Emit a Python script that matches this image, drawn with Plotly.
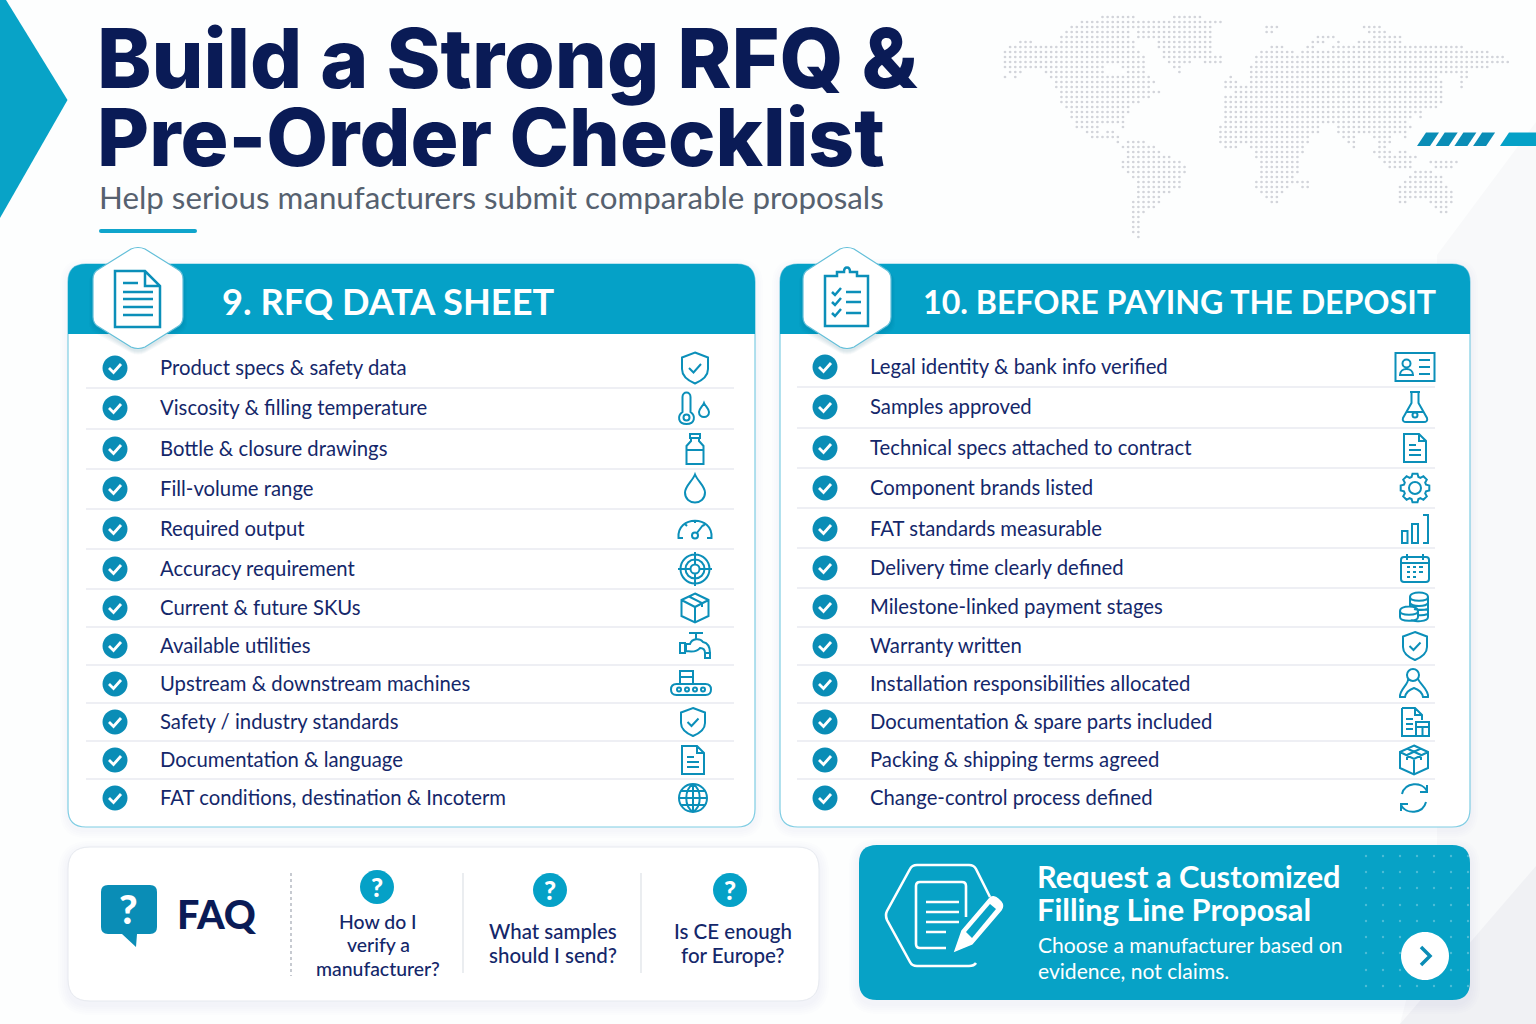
#!/usr/bin/env python3
"""Build a Strong RFQ & Pre-Order Checklist infographic, drawn on a pixel-sized plot."""

import math
import re

import plotly.graph_objects as go

NAVY = "#0a1b56"
ROW_TEXT = "#14276a"
TEAL = "#05a1c7"
TEAL_DARK = "#0a8db6"
ICON = "#0b8fb9"
BORDER = "#7fcde3"
RULE = "#e8eaf0"
FONT = "Lato"

TITLE_LINES = ["Build a Strong RFQ &", "Pre-Order Checklist"]
SUBTITLE = "Help serious manufacturers submit comparable proposals"

LEFT_HEADER = "9. RFQ DATA SHEET"
LEFT_ITEMS = [
    "Product specs & safety data",
    "Viscosity & filling temperature",
    "Bottle & closure drawings",
    "Fill-volume range",
    "Required output",
    "Accuracy requirement",
    "Current & future SKUs",
    "Available utilities",
    "Upstream & downstream machines",
    "Safety / industry standards",
    "Documentation & language",
    "FAT conditions, destination & Incoterm",
]
LEFT_ICONS = ["shield", "thermo", "bottle", "drop", "gauge", "target",
              "box", "tap", "conveyor", "shield_small", "doc", "globe"]
LEFT_ROW_Y = [368, 408, 449, 489, 529, 569, 608, 646, 684, 722, 760, 798]
LEFT_ICON_X = [695, 695, 695, 695, 695, 695, 695, 695, 691, 693, 693, 693]
LEFT_RULE_Y = [388, 429, 469, 509, 549, 589, 627, 665, 703, 741, 779]

RIGHT_HEADER = "10. BEFORE PAYING THE DEPOSIT"
RIGHT_ITEMS = [
    "Legal identity & bank info verified",
    "Samples approved",
    "Technical specs attached to contract",
    "Component brands listed",
    "FAT standards measurable",
    "Delivery time clearly defined",
    "Milestone-linked payment stages",
    "Warranty written",
    "Installation responsibilities allocated",
    "Documentation & spare parts included",
    "Packing & shipping terms agreed",
    "Change-control process defined",
]
RIGHT_ICONS = ["idcard", "flask", "doc", "gear", "bars", "calendar",
               "coins", "shield_small", "person", "docbox", "parcel", "refresh"]
RIGHT_ROW_Y = [367, 407, 448, 488, 529, 568, 607, 646, 684, 722, 760, 798]
RIGHT_ICON_X = [1415, 1415, 1415, 1415, 1415, 1415, 1414, 1415, 1414, 1415, 1414, 1414]
RIGHT_RULE_Y = [387, 428, 468, 508, 548, 588, 627, 665, 703, 741, 779]

FAQ_TITLE = "FAQ"
FAQ_QUESTIONS = [["How do I", "verify a", "manufacturer?"],
                 ["What samples", "should I send?"],
                 ["Is CE enough", "for Europe?"]]
FAQ_CIRCLE_X = [377, 550, 730]
FAQ_CIRCLE_Y = [887, 890, 890]
FAQ_TEXT_X = [378, 553, 733]
FAQ_TEXT_Y = [[921, 944, 968], [931, 955], [931, 955]]
FAQ_TEXT_SIZE = [19.4, 20.5, 20.5]

CTA_TITLE = ["Request a Customized", "Filling Line Proposal"]
CTA_BODY = ["Choose a manufacturer based on", "evidence, not claims."]

# dotted world map: row number -> runs of dot columns
MAP_RUNS = {
    0: [(19, 25), (33, 38)], 1: [(15, 42)], 2: [(13, 40), (51, 53), (70, 73)],
    3: [(12, 24), (26, 40), (51, 52), (71, 74)], 4: [(11, 24), (26, 40), (61, 64), (72, 77)],
    5: [(3, 5), (11, 25), (30, 40), (60, 62), (65, 65), (69, 77)],
    6: [(1, 25), (30, 40), (52, 54), (59, 60), (64, 89)],
    7: [(0, 26), (31, 40), (50, 56), (58, 94)], 8: [(0, 27), (31, 42), (49, 57), (58, 97)],
    9: [(0, 27), (32, 36), (39, 42), (49, 98)], 10: [(0, 19), (23, 27), (33, 34), (48, 94)],
    11: [(1, 3), (8, 19), (24, 27), (34, 34), (48, 90)],
    12: [(0, 0), (2, 2), (9, 22), (23, 28), (44, 44), (48, 84), (89, 90)],
    13: [(10, 29), (43, 45), (48, 85), (89, 89)], 14: [(10, 28), (43, 85), (89, 89)],
    15: [(11, 30), (45, 85)], 16: [(11, 28), (43, 85)], 17: [(11, 26), (43, 85)],
    18: [(12, 24), (43, 84)], 19: [(13, 24), (43, 81)], 20: [(13, 23), (43, 79), (81, 81)],
    21: [(14, 23), (43, 78)], 22: [(14, 18), (23, 23), (42, 61), (65, 79)],
    23: [(16, 18), (20, 21), (42, 61), (65, 78)],
    24: [(17, 22), (42, 59), (66, 68), (72, 75), (78, 78)],
    25: [(22, 22), (24, 27), (42, 59), (67, 68), (73, 75)],
    26: [(23, 29), (43, 45), (48, 58), (68, 68), (73, 74)],
    27: [(24, 30), (49, 58), (72, 75), (77, 78)], 28: [(24, 32), (49, 57), (73, 75), (76, 80)],
    29: [(23, 34), (50, 57), (74, 79), (83, 88)], 30: [(23, 35), (50, 57), (75, 79), (84, 87)],
    31: [(24, 35), (50, 57), (80, 83)], 32: [(25, 34), (50, 56), (79, 85)],
    33: [(26, 34), (49, 57), (58, 59), (78, 85)], 34: [(26, 34), (49, 55), (58, 59), (77, 86)],
    35: [(26, 32), (50, 54), (77, 87)], 36: [(26, 30), (51, 53), (77, 87)],
    37: [(25, 30), (52, 53), (77, 78), (83, 87)], 38: [(25, 29), (84, 86)],
    39: [(25, 27), (85, 86)], 40: [(25, 26)], 41: [(25, 26)], 42: [(25, 26)],
    43: [(25, 26)], 44: [(26, 26)],
}
CTA_DOT_X = [1366, 1383, 1400, 1417, 1434, 1451, 1468]
CTA_DOT_Y = [856, 872, 888, 905, 921, 937, 953, 970, 986]


def circ(x, y, r):
    k = 0.5523 * r
    return (f"M{x - r},{y} C{x - r},{y - k} {x - k},{y - r} {x},{y - r} "
            f"C{x + k},{y - r} {x + r},{y - k} {x + r},{y} "
            f"C{x + r},{y + k} {x + k},{y + r} {x},{y + r} "
            f"C{x - k},{y + r} {x - r},{y + k} {x - r},{y} Z ")


def box(x0, y0, x1, y1):
    return f"M{x0},{y0} L{x1},{y0} L{x1},{y1} L{x0},{y1} Z "


def rrect(x0, y0, x1, y1, r):
    return (f"M{x0 + r},{y0} L{x1 - r},{y0} Q{x1},{y0} {x1},{y0 + r} "
            f"L{x1},{y1 - r} Q{x1},{y1} {x1 - r},{y1} L{x0 + r},{y1} "
            f"Q{x0},{y1} {x0},{y1 - r} L{x0},{y0 + r} Q{x0},{y0} {x0 + r},{y0} Z")


def top_rrect(x0, y0, x1, y1, r):
    return (f"M{x0 + r},{y0} L{x1 - r},{y0} Q{x1},{y0} {x1},{y0 + r} "
            f"L{x1},{y1} L{x0},{y1} L{x0},{y0 + r} Q{x0},{y0} {x0 + r},{y0} Z")


def drop(x, y, w, h):
    t = y - h / 2
    b = y + h / 2
    return (f"M{x},{t} C{x + w * 0.12},{t + h * 0.22} {x + w / 2},{t + h * 0.42} {x + w / 2},{b - w / 2} "
            f"C{x + w / 2},{b + w * 0.17} {x - w / 2},{b + w * 0.17} {x - w / 2},{b - w / 2} "
            f"C{x - w / 2},{t + h * 0.42} {x - w * 0.12},{t + h * 0.22} {x},{t} Z ")


def gear_path():
    pts = []
    for i in range(8):
        a = i * math.pi / 4
        for da, r in [(-0.30, 11.5), (-0.17, 14.5), (0.17, 14.5), (0.30, 11.5)]:
            pts.append((r * math.cos(a + da), r * math.sin(a + da)))
    p = "M" + " L".join(f"{x:.1f},{y:.1f}" for x, y in pts) + " Z "
    return p + circ(0, 0, 6)


def globe_path():
    return (circ(0, 0, 14) + "M-14,0 L14,0 M0,-14 L0,14 M-12,-7 L12,-7 M-12,7 L12,7 "
            "M0,-14 C-9,-8 -9,8 0,14 M0,-14 C9,-8 9,8 0,14 ")


ICON_PATHS = {
    "shield": "M0,-15.5 L13,-10.5 L13,1 C13,9 6,13 0,15.5 C-6,13 -13,9 -13,1 L-13,-10.5 Z "
              "M-6,0 L-1.5,4.5 L6,-4 ",
    "shield_small": "M0,-14 L12,-9.5 L12,1 C12,8 6,11.5 0,14 C-6,11.5 -12,8 -12,1 L-12,-9.5 Z "
                    "M-5.5,0 L-1.5,4 L5.5,-3.5 ",
    "thermo": "M-12.5,4 L-12.5,-11 C-12.5,-17 -4.5,-17 -4.5,-11 L-4.5,4 C1,8 0,16 -8.5,16 "
              "C-17,16 -18,8 -12.5,4 Z " + circ(-8.5, 9.5, 3) + drop(9, 2, 10, 14),
    "bottle": box(-5, -15, 5, -11) + "M-4,-11 L-4,-8 L-8.5,-3 L-8.5,15 L8.5,15 L8.5,-3 L4,-8 L4,-11 "
              "M-8.5,1 L8.5,1 ",
    "drop": drop(0, -0.5, 20, 28),
    "gauge": "M-12,9 L-16.5,9 C-18.5,-14 18.5,-14 16.5,9 L12,9 M0,-9 L0,-6 M-10,-5 L-8,-3 "
             "M10,-5 L8,-3 M1.5,4.5 L8,-4 " + circ(0, 6.5, 3),
    "target": circ(0, 0, 14.5) + circ(0, 0, 9.5) + circ(0, 0, 4.5) +
              "M-17,0 L-5,0 M5,0 L17,0 M0,-17 L0,-5 M0,5 L0,17 ",
    "box": "M0,-14.5 L13.5,-8 L13.5,8 L0,14.5 L-13.5,8 L-13.5,-8 Z M-13.5,-8 L0,-1 L13.5,-8 "
           "M0,-1 L0,14.5 M-6,-11.5 L7,-5 L7,-1 ",
    "tap": "M-6,-13 L8,-13 M1,-13 L1,-7 M-9,-2 L-5,-2 C-3,-8 5,-8 8,-4 C13,-3 15,0 15,7 L10,7 "
           "C10,3 8,2 5,2 C2,6 -3,6 -9,5 Z " + box(-15, -3, -10, 7) + box(10, 7, 15, 12),
    "conveyor": box(-11, -13, 2, 0) + "M-11,-7 L2,-7 " + rrect(-20, 0, 20, 11, 5.5) + " " +
                circ(-12, 5.5, 2) + circ(-4, 5.5, 2) + circ(4, 5.5, 2) + circ(12, 5.5, 2),
    "doc": "M-11,-14 L4,-14 L11,-7 L11,14 L-11,14 Z M4,-14 L4,-7 L11,-7 M-6,-3 L1,-3 M-6,2 L6,2 M-6,7 L6,7 ",
    "globe": globe_path(),
    "idcard": box(-19.5, -14, 19.5, 14) + circ(-8.5, -3.5, 4) +
              "M-15,8 C-15,0 -2,0 -2,8 Z M4,-7 L15,-7 M4,0 L15,0 M4,7 L15,7 ",
    "flask": "M-5,-15 L5,-15 M-3.5,-15 L-3.5,-4 L-12,11 C-13,14 -11,15 -9,15 L9,15 C11,15 13,14 12,11 "
             "L3.5,-4 L3.5,-15 M-8,5 L8,5 " + circ(0, 8, 2.5),
    "gear": gear_path(),
    "bars": box(-13, 2, -7.5, 14) + box(-3, -5, 3, 14) + "M8,-14 L13,-14 L13,14 L8,14 ",
    "calendar": rrect(-14, -11, 14, 14, 3) + " M-14,-5 L14,-5 M-8,-14 L-8,-8 M8,-14 L8,-8 "
                "M-8,-1 L-5,-1 M-2,-1 L1,-1 M4,-1 L8,-1 M-8,4 L-5,4 M-2,4 L1,4 M4,4 L8,4 M-8,9 L-5,9 M-2,9 L1,9 ",
    "coins": "M-4,-10 C-4,-16 14,-16 14,-10 L14,10 C14,15 0,15 -3,13 M-4,-10 C-4,-5 14,-5 14,-10 "
             "M-4,-10 L-4,-1 M-4,-4 C-2,0 12,0 14,-4 M0,2 C4,3 10,3 14,2 M4,8 C8,9 11,8 14,7 "
             "M-14,4 C-14,-2 4,-2 4,4 L4,10 C4,15 -14,15 -14,10 Z M-14,4 C-14,9 4,9 4,4 ",
    "person": circ(-1, -9, 6) + "M-6,-5 C-5,0 -15,6 -14,13 L-9,13 C-8,8 -3,5 0,4 C3,5 8,8 9,13 L14,13 "
              "C15,6 6,0 4,-5 ",
    "docbox": "M-13,-14 L0,-14 L7,-7 L7,-2 M0,-14 L0,-7 L7,-7 M-13,-14 L-13,14 L1,14 M-9,-3 L-2,-3 M-9,2 L-2,2 "
              "M-9,7 L-2,7 " + box(1, 0, 14, 14) + "M1,5 L14,5 M7.5,5 L7.5,14 ",
    "parcel": "M0,-14.5 L14,-8 L14,8 L0,14.5 L-14,8 L-14,-8 Z M-14,-8 L0,-1 L14,-8 M0,-1 L0,14.5 "
              "M-7,-11.5 L7,-5 L7,0 M7,-11.5 L-7,-5 L-7,0 ",
    "refresh": "M-12,-4 C-9,-16 8,-17 13,-7 M13,-13 L13,-6 L6,-6 M12,4 C9,16 -8,17 -13,7 M-13,13 L-13,6 L-6,6 ",
}

shapes = []
annotations = []


def add_path(path, fill=None, line=None, width=1.0, opacity=None, layer="below"):
    s = dict(type="path", path=path, layer=layer, line=dict(width=0), xref="x", yref="y")
    if fill:
        s["fillcolor"] = fill
    if line:
        s["line"] = dict(color=line, width=width)
    if opacity is not None:
        s["opacity"] = opacity
    shapes.append(s)


def place(path, cx, cy):
    """Move a path whose numbers are plain x,y pairs so that its origin lands on cx,cy."""
    flip = [0]

    def repl(m):
        v = float(m.group(0)) + (cx if flip[0] == 0 else cy)
        flip[0] ^= 1
        return f"{v:.2f}"
    return re.sub(r"-?\d+\.?\d*(?:e-?\d+)?", repl, path)


def add_text(x, y, s, size, color=ROW_TEXT, weight=400, anchor="left", family=FONT):
    annotations.append(dict(x=x, y=y, text=s, showarrow=False, xref="x", yref="y",
                            xanchor=anchor, yanchor="middle", align=anchor,
                            borderpad=0, xshift=0,
                            font=dict(family=family, size=size, color=color, weight=weight)))


def soft_shadow(x0, y0, x1, y1, r, dy=4, steps=5, alpha=0.012):
    for i in range(steps, 0, -1):
        g = i * 2
        add_path(rrect(x0 - g, y0 - g + dy, x1 + g, y1 + g + dy, r + g), fill="#5b6b8c", opacity=alpha)


def hexagon(cx, top, bottom, half):
    upper = top + 24
    lower = bottom - 24
    return (f"M{cx - 7},{top + 2} Q{cx},{top - 1} {cx + 7},{top + 2} "
            f"L{cx + half - 6},{upper - 2} Q{cx + half},{upper + 1} {cx + half},{upper + 8} "
            f"L{cx + half},{lower - 8} Q{cx + half},{lower - 1} {cx + half - 6},{lower + 2} "
            f"L{cx + 7},{bottom - 2} Q{cx},{bottom + 1} {cx - 7},{bottom - 2} "
            f"L{cx - half + 6},{lower + 2} Q{cx - half},{lower - 1} {cx - half},{lower - 8} "
            f"L{cx - half},{upper + 8} Q{cx - half},{upper + 1} {cx - half + 6},{upper - 2} Z")


def checklist_card(x0, x1, header, header_x, header_size, items, icons, row_y, icon_x, rule_y,
                   rule_x0, rule_x1, check_x, text_x, hex_cx, hex_half):
    soft_shadow(x0, 264, x1, 827, 18, dy=3, steps=4)
    add_path(rrect(x0, 264, x1, 827, 18), fill="#ffffff", line=BORDER, width=1.2)
    add_path(top_rrect(x0, 264, x1, 334, 18), fill=TEAL)
    for i in range(4, 0, -1):
        add_path(hexagon(hex_cx, 247 + i, 349 + i + 2, hex_half + i), fill="#0d4f6b", opacity=0.035)
    add_path(hexagon(hex_cx, 247, 349, hex_half), fill="#ffffff", line="#63bfd9", width=1.2)
    add_text(header_x, 301, header, header_size, color="#ffffff", weight=700)
    for y in rule_y:
        add_path(f"M{rule_x0},{y} L{rule_x1},{y}", line=RULE, width=1.4)
    for name, label, y, ix in zip(icons, items, row_y, icon_x):
        add_path(circ(check_x, y, 12.5), fill=TEAL_DARK)
        add_path(f"M{check_x - 6},{y} L{check_x - 1.5},{y + 4.5} L{check_x + 6},{y - 4}", line="#ffffff", width=2.8)
        add_text(text_x, y - 1, label, ROW_SIZE, weight=400)
        add_path(place(ICON_PATHS[name], ix, y), line=ICON, width=2.0)


ROW_SIZE = 20.3

# page background
add_path("M1536,122 L1437,255 L1437,880 L1400,1024 L1536,1024 Z", fill="#f8f9fa")
add_path("M1536,866 L1400,1024 L1536,1024 Z", fill="#f0f1f4")

# top-left arrow
add_path("M0,0 L6,0 L67.5,100 L0,218 Z", fill="#08a3c7")

# map dots and stripes
map_x = []
map_y = []
for row, runs in MAP_RUNS.items():
    for c0, c1 in runs:
        for col in range(c0, c1 + 1):
            map_x.append(1005 + 5.13 * col)
            map_y.append(17 + 5.0 * row)

for i in range(4):
    dx = 18.7 * i
    add_path(f"M{1417 + dx},146 L{1426 + dx},132.5 L{1439 + dx},132.5 L{1430 + dx},146 Z", fill=TEAL_DARK)
add_path("M1500,146 L1509,132.5 L1536,132.5 L1536,146 Z", fill=TEAL)

# title block
add_text(96, 58, TITLE_LINES[0], 82, color=NAVY, weight=800, family="Inter")
add_text(96, 136, TITLE_LINES[1], 80, color=NAVY, weight=800, family="Inter")
add_text(97.5, 197, SUBTITLE, 31.3, color="#56616f")
add_path(rrect(99, 229, 197, 233, 2), fill="#10a5cc")

# the two cards
checklist_card(68, 755, LEFT_HEADER, 220.5, 36.2, LEFT_ITEMS, LEFT_ICONS, LEFT_ROW_Y, LEFT_ICON_X,
               LEFT_RULE_Y, 86, 734, 115, 158.5, 138, 45)
checklist_card(780, 1470, RIGHT_HEADER, 921.5, 32.2, RIGHT_ITEMS, RIGHT_ICONS, RIGHT_ROW_Y, RIGHT_ICON_X,
               RIGHT_RULE_Y, 797, 1435, 825, 868.5, 847, 44)

# badge icons
add_path("M115,271 L145,271 L160,286 L160,327 L115,327 Z M145,271 L145,286 L160,286 "
         "M123,283 L138,283 M123,292 L153,292 M123,299 L153,299 M123,307 L153,307 M123,315 L153,315",
         line=ICON, width=2.5)
add_path("M825,276 L837,276 L837,272 L844,272 C844,266 850,266 850,272 L857,272 L857,276 L868,276 "
         "L868,326 L825,326 Z M832,292 L835,295 L841,288 M846,292 L861,292 M832,302 L835,305 L841,298 "
         "M846,302 L861,302 M832,313 L835,316 L841,309 M846,313 L861,313", line=ICON, width=2.5)

# FAQ panel
soft_shadow(68, 847, 819, 1001, 22, dy=4)
add_path(rrect(68, 847, 819, 1001, 22), fill="#ffffff", line="#e6e9ef", width=1)
add_path("M108,885 L150,885 Q157,885 157,892 L157,927 Q157,934 150,934 L137,934 L136,947 "
         "L122,934 L108,934 Q101,934 101,927 L101,892 Q101,885 108,885 Z", fill=TEAL_DARK)
add_text(128, 909, "?", 40, color="#ffffff", weight=900, anchor="center")
add_text(175.5, 913, FAQ_TITLE, 39.5, color=NAVY, weight=900)
shapes.append(dict(type="line", x0=291, x1=291, y0=873, y1=976, xref="x", yref="y", layer="below",
                   line=dict(color="#a9aeb8", width=1.3, dash="dot")))
for x in [463, 641]:
    add_path(f"M{x},873 L{x},973", line="#e2e5ea", width=1.4)
for cx, cy, tx, lines_y, lines, sz in zip(FAQ_CIRCLE_X, FAQ_CIRCLE_Y, FAQ_TEXT_X, FAQ_TEXT_Y,
                                          FAQ_QUESTIONS, FAQ_TEXT_SIZE):
    add_path(circ(cx, cy, 17), fill=TEAL)
    add_text(cx, cy, "?", 26, color="#ffffff", weight=900, anchor="center")
    for ty, s in zip(lines_y, lines):
        add_text(tx, ty, s, sz, color=ROW_TEXT, weight=500, anchor="center")

# CTA panel
soft_shadow(859, 845, 1470, 1000, 18, dy=4)
add_path(rrect(859, 845, 1470, 1000, 18), fill="#07a2c6")
add_path("M990,897 L976,869 Q974,865 969,865 L917,865 Q912,865 910,869 L887,911 Q885,915 887,920 "
         "L910,962 Q912,966 917,966 L969,966 Q974,966 976,963", line="#ffffff", width=2.6)
add_path("M966,917 L966,886 Q966,882 962,882 L920,882 Q916,882 916,886 L916,944 Q916,948 920,948 L946,948 "
         "M926,902 L959,902 M926,912 L959,912 M926,922 L959,922 M926,932 L946,932", line="#ffffff", width=2.6)
add_path("M955,951 L962,931 L990,898 Q994,895 998,899 L1001,902 Q1004,906 1001,910 L972,944 Z M962,931 L972,944",
         fill="#ffffff", line="#ffffff", width=1.5)
add_path("M966,932 L990,904 L996,909 L972,938 Z", fill="#07a2c6")
add_text(1036, 876, CTA_TITLE[0], 30.8, color="#ffffff", weight=700)
add_text(1036, 909, CTA_TITLE[1], 30.8, color="#ffffff", weight=700)
add_text(1036.5, 944, CTA_BODY[0], 21.1, color="#ffffff")
add_text(1036.5, 970, CTA_BODY[1], 21.1, color="#ffffff")
add_path(circ(1425, 956, 24), fill="#ffffff", layer="above")
add_path("M1421,947 L1430,956 L1421,965", line=TEAL_DARK, width=3.5, layer="above")

fig = go.Figure()
fig.add_trace(go.Scatter(x=map_x, y=map_y, mode="markers", hoverinfo="skip",
                         marker=dict(size=2.7, color="#d2d4da", line=dict(width=0))))
fig.add_trace(go.Scatter(x=[x for x in CTA_DOT_X for _ in CTA_DOT_Y],
                         y=[y for _ in CTA_DOT_X for y in CTA_DOT_Y],
                         mode="markers", hoverinfo="skip",
                         marker=dict(size=2.4, color="rgba(255,255,255,0.28)", line=dict(width=0))))

fig.update_layout(
    width=1536,
    height=1024,
    margin=dict(l=0, r=0, t=0, b=0),
    paper_bgcolor="#fdfefe",
    plot_bgcolor="#fdfefe",
    showlegend=False,
    xaxis=dict(range=[0, 1536], visible=False, fixedrange=True),
    yaxis=dict(range=[1024, 0], visible=False, fixedrange=True),
    shapes=shapes,
    annotations=annotations,
)

fig.write_html("out.html", config=dict(displayModeBar=False),
               post_script="document.body.style.margin='0';")
